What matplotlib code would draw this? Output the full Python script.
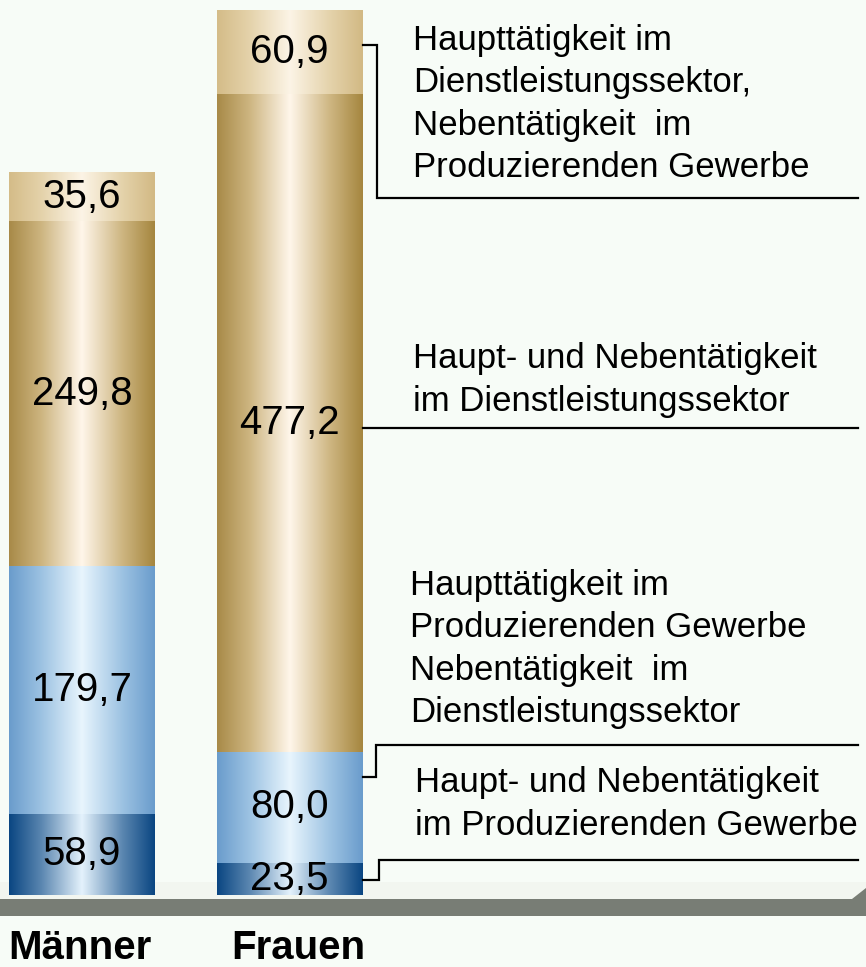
import numpy as np
import matplotlib.pyplot as plt
from matplotlib.colors import LinearSegmentedColormap
from matplotlib.patches import Polygon

# data (1000 persons)
gruppen = ["Männer", "Frauen"]
prod_beide = [58.9, 23.5]        # Haupt- und Nebentätigkeit im Produzierenden Gewerbe
prod_haupt = [179.7, 80.0]       # Haupt Prod., Neben Dienstleistung
dienst_beide = [249.8, 477.2]    # Haupt- und Nebentätigkeit im Dienstleistungssektor
dienst_haupt = [35.6, 60.9]      # Haupt Dienstl., Neben Prod.
werte_labels = [["58,9", "179,7", "249,8", "35,6"],
                ["23,5", "80,0", "477,2", "60,9"]]

texte = [
    "Haupttätigkeit im\nDienstleistungssektor,\nNebentätigkeit  im\nProduzierenden Gewerbe",
    "Haupt- und Nebentätigkeit\nim Dienstleistungssektor",
    "Haupttätigkeit im\nProduzierenden Gewerbe\nNebentätigkeit  im\nDienstleistungssektor",
    "Haupt- und Nebentätigkeit\nim Produzierenden Gewerbe",
]

plt.rcParams['font.family'] = ['Liberation Sans', 'DejaVu Sans']
bg = '#f7fcf7'

W, H = 866, 967
base = 895                        # pixel row of the bar bottoms
scale = 885 / 641.6               # pixels per unit


def yp(pix):
    # pixel row (from top) -> data value
    return (base - pix) / scale


fig = plt.figure(figsize=(W / 100, H / 100), dpi=100, facecolor=bg)
ax = fig.add_axes([0, 0, 1, 1])
ax.set_facecolor(bg)
ax.set_xlim(0, W)
ax.set_ylim(yp(H), yp(0))
ax.axis('off')

# platform / floor
ax.add_patch(Polygon([(0, yp(882)), (866, yp(882)), (866, yp(899)), (0, yp(899))],
                     closed=True, fc='#f2f6f0', ec='none', zorder=0))
ax.add_patch(Polygon([(0, yp(899)), (852, yp(899)), (866, yp(888)), (866, yp(916)), (0, yp(916))],
                     closed=True, fc='#787d75', ec='none', zorder=1))

schemes = [
    ['#0a4682', '#5a86b0', '#e4f2fc', '#5a86b0', '#0a4682'],
    ['#6a9ccc', '#9cc2e2', '#e8f5fd', '#9cc2e2', '#6a9ccc'],
    ['#a88a48', '#cdb580', '#fff6ea', '#cdb580', '#a5863f'],
    ['#d4bc88', '#e4d2aa', '#fcf4e6', '#e4d2aa', '#d2b984'],
]
stops = [0, 0.22, 0.5, 0.78, 1]

centers = [82, 289.5]
breite = 146
reihen = [prod_beide, prod_haupt, dienst_beide, dienst_haupt]
grad = np.linspace(0, 1, 256).reshape(1, -1)

bottoms = np.zeros(2)
segs = []
for k, reihe in enumerate(reihen):
    bars = ax.bar(centers, reihe, width=breite, bottom=bottoms, color='none',
                  edgecolor='none', zorder=2)
    cmap = LinearSegmentedColormap.from_list('s%d' % k, list(zip(stops, schemes[k])))
    for i, b in enumerate(bars):
        x0 = b.get_x()
        im = ax.imshow(grad, cmap=cmap, aspect='auto', zorder=2,
                       extent=[x0, x0 + breite, bottoms[i], bottoms[i] + reihe[i]])
        im.set_clip_path(b)
        ax.text(centers[i], bottoms[i] + reihe[i] / 2, werte_labels[i][k],
                ha='center', va='center', fontsize=29, zorder=4)
    segs.append((bottoms.copy(), np.array(reihe)))
    bottoms = bottoms + np.array(reihe)

# leader lines from the Frauen bar
rechts = centers[1] + breite / 2
kw = dict(color='black', lw=1.6, zorder=3, solid_joinstyle='miter')
anker_frac = [0.46, 0.775, 0.493, 0.585]
ank = [segs[k][0][1] + anker_frac[k] * segs[k][1][1] for k in range(4)]

ax.plot([rechts, 377, 377, 858], [ank[3], ank[3], yp(198), yp(198)], **kw)
ax.plot([rechts, 858], [ank[2], ank[2]], **kw)
ax.plot([rechts, 376, 376, 858], [ank[1], ank[1], yp(745), yp(745)], **kw)
ax.plot([rechts, 379, 379, 858], [ank[0], ank[0], yp(860), yp(860)], **kw)

text_pos = [(413, 104), (413, 380), (410, 649), (415, 804)]
for (tx, ty), t in zip(text_pos, texte):
    ax.text(tx, yp(ty), t, ha='left', va='center', fontsize=25, linespacing=1.36)

ax.text(80, yp(948), gruppen[0], ha='center', va='center', fontsize=29, fontweight='bold')
ax.text(298, yp(948), gruppen[1], ha='center', va='center', fontsize=29, fontweight='bold')

fig.savefig('out.png', dpi=100, facecolor=bg)
